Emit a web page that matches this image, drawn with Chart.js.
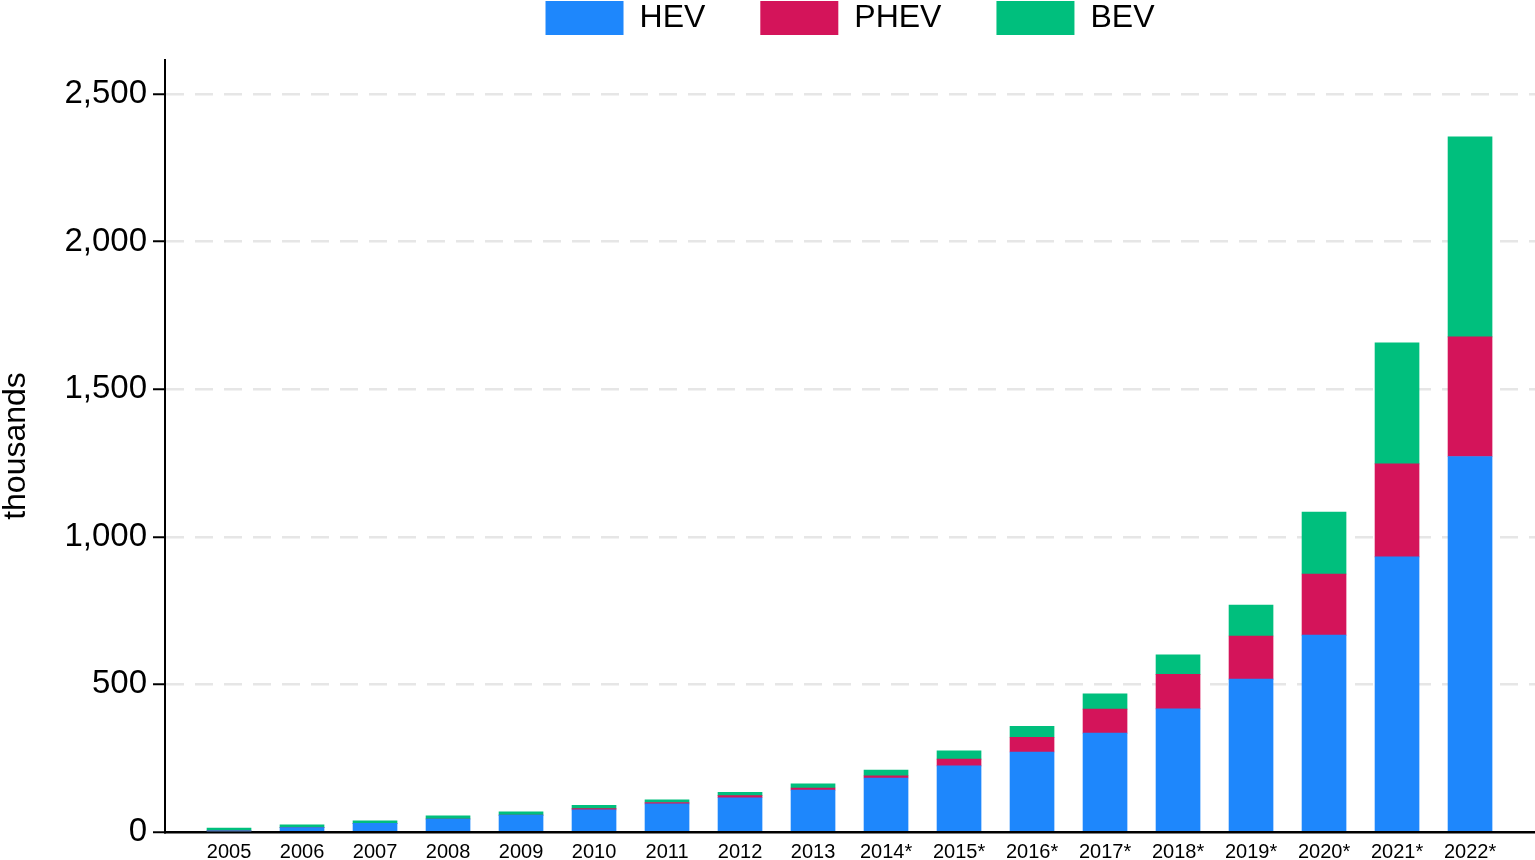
<!DOCTYPE html>
<html>
<head>
<meta charset="utf-8">
<title>HEV / PHEV / BEV</title>
<script src="https://cdn.jsdelivr.net/npm/chart.js@4.4.1/dist/chart.umd.min.js"></script>
<style>
	html, body { margin: 0; padding: 0; background: #fff; overflow: hidden; }
	#wrap { width: 1535px; height: 924px; margin-top: -54px; }
</style>
</head>
<body>
<div id="wrap">
	<canvas id="EvChart" width="1535" height="924"></canvas>
</div>
<script>
// values, in thousands
const years = ["2005", "2006", "2007", "2008", "2009", "2010", "2011", "2012", "2013",
	"2014*", "2015*", "2016*", "2017*", "2018*", "2019*", "2020*", "2021*", "2022*"]
const hev = [4, 15, 29, 44, 57, 75, 95, 116, 142, 183, 224, 271, 335, 417, 518, 667, 932, 1272]
const phev = [0, 0, 0, 0, 0, 4, 5, 7, 7, 7, 23, 50, 81, 117, 146, 207, 315, 405]
const bev = [9, 9, 9, 11, 11, 11, 9, 11, 14, 20, 28, 37, 52, 66, 105, 210, 410, 678]
const yTicks = [0, 500, 1000, 1500, 2000, 2500]

const font = "'Liberation Sans', Arial, Helvetica, sans-serif"

const toPoints = (arr) => arr.map((v, i) => ({ x: i, y: v }))

// legend sits high with wide gaps, so give it a fixed height
const legendHeight = {
	id: "legendHeight",
	beforeInit(chart) {
		const origFit = chart.legend.fit
		chart.legend.fit = function () {
			origFit.bind(chart.legend)()
			this.height = 114
		}
	},
}

const ctx = document.getElementById("EvChart").getContext("2d")

new Chart(ctx, {
	type: "bar",
	data: {
		datasets: [
			{ label: "HEV", data: toPoints(hev), backgroundColor: "#1e87fc" },
			{ label: "PHEV", data: toPoints(phev), backgroundColor: "#d4145a" },
			{ label: "BEV", data: toPoints(bev), backgroundColor: "#00bf7d" },
		],
	},
	options: {
		responsive: false,
		animation: false,
		layout: { padding: 0 },
		datasets: { bar: { barThickness: 44, borderWidth: 0 } },
		plugins: {
			tooltip: { enabled: false },
			legend: {
				position: "top",
				fullSize: false,
				labels: {
					boxWidth: 78,
					boxHeight: 34,
					padding: 55,
					color: "#000",
					font: { family: font, size: 32 },
				},
			},
		},
		scales: {
			x: {
				type: "linear",
				stacked: true,
				offset: false,
				min: -0.877,
				max: 17.89,
				afterBuildTicks: (scale) => {
					scale.ticks = years.map((_, i) => ({ value: i }))
				},
				afterFit: (scale) => {
					scale.height = 38
				},
				grid: { display: false, drawTicks: false, offset: false },
				border: { display: true, color: "#000", width: 2.5 },
				ticks: {
					autoSkip: false,
					maxRotation: 0,
					padding: 8,
					color: "#000",
					font: { family: font, size: 20 },
					callback: (v) => years[v],
				},
			},
			y: {
				stacked: true,
				min: 0,
				max: 2615,
				afterBuildTicks: (scale) => {
					scale.ticks = yTicks.map((v) => ({ value: v }))
				},
				afterFit: (scale) => {
					scale.width = 165
				},
				grid: {
					color: (c) => (c.tick && c.tick.value === 0 ? "rgba(0,0,0,0)" : "#e6e6e6"),
					lineWidth: 2.5,
					drawTicks: true,
					tickLength: 12,
					tickColor: "#000",
					tickWidth: 2,
				},
				border: { display: true, color: "#000", width: 2, dash: [18, 11] },
				ticks: {
					padding: 6,
					color: "#000",
					font: { family: font, size: 33 },
					callback: (v) => v.toLocaleString("en-US"),
				},
				title: {
					display: true,
					text: "thousands",
					color: "#000",
					padding: { top: 0, bottom: 0 },
					font: { family: font, size: 32, lineHeight: 1 },
				},
			},
		},
	},
	plugins: [legendHeight],
})
</script>
</body>
</html>
